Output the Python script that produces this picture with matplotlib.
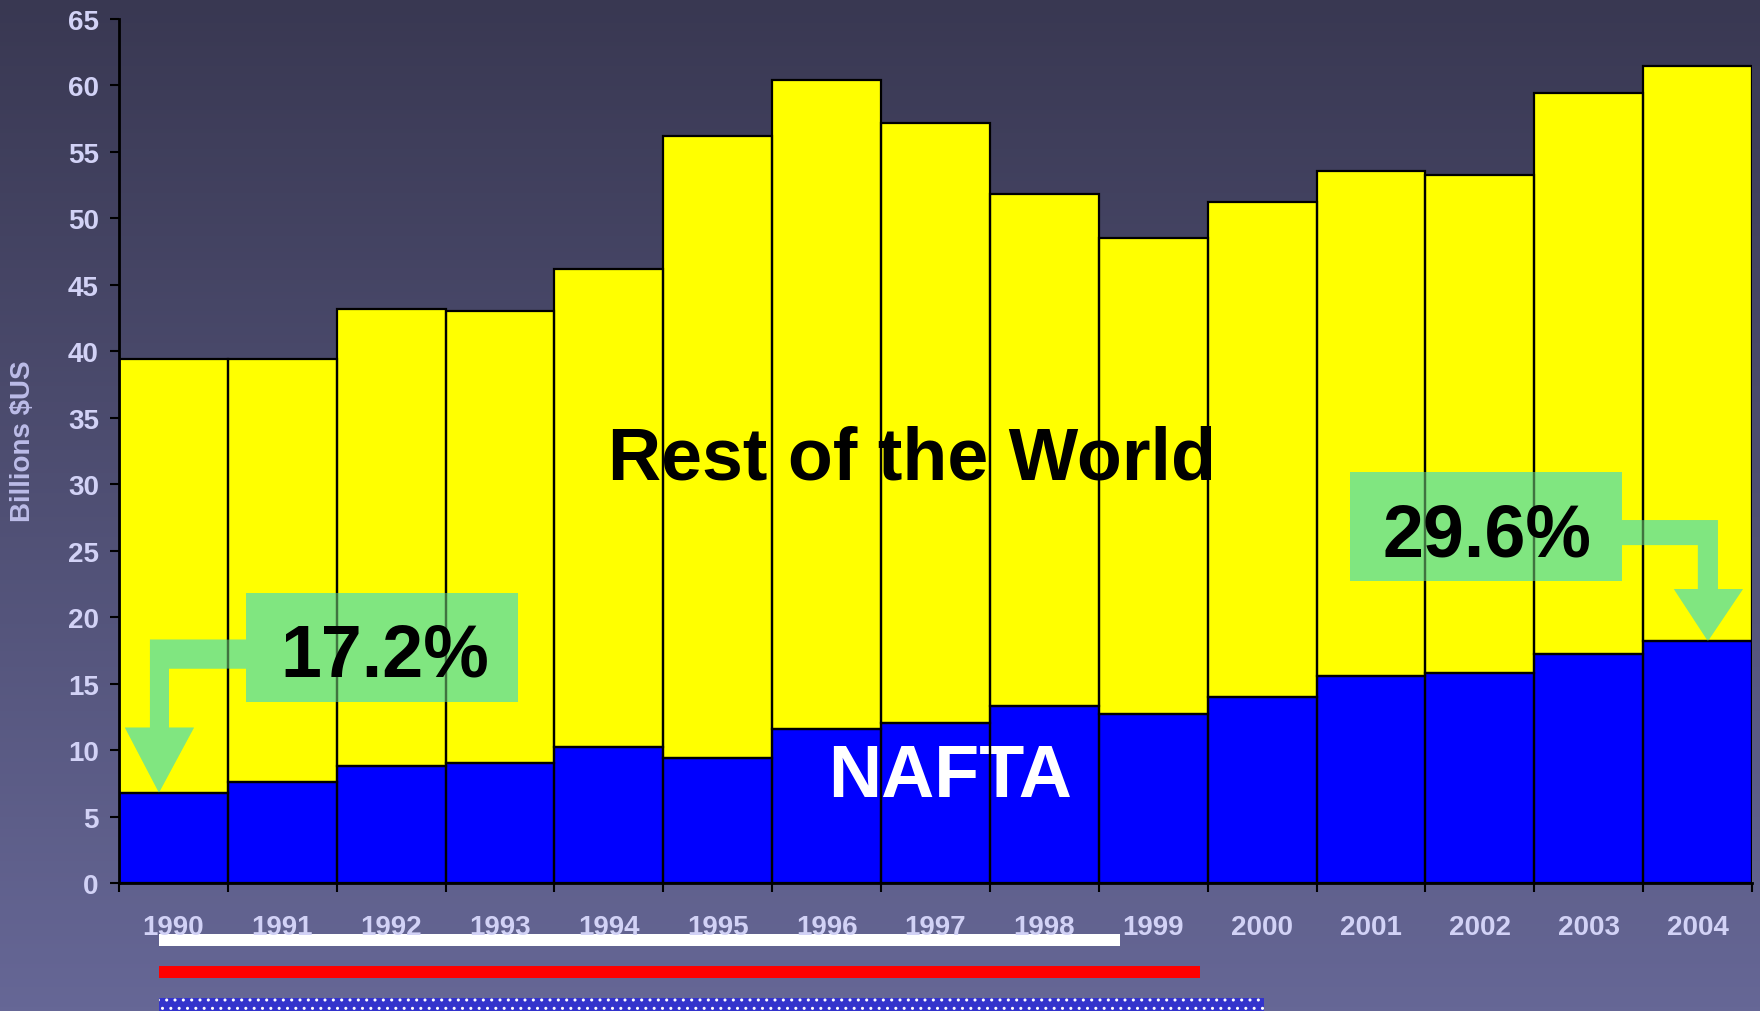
import matplotlib.pyplot as plt
import matplotlib.transforms as mtransforms
from matplotlib.patches import Rectangle, Polygon
import numpy as np

plt.rcParams['font.family'] = ['Liberation Sans', 'DejaVu Sans']
plt.rcParams['font.weight'] = 'bold'

years = [str(y) for y in range(1990, 2005)]
nafta = [6.8, 7.6, 8.8, 9.0, 10.2, 9.4, 11.6, 12.0, 13.3, 12.7, 14.0, 15.6, 15.8, 17.2, 18.2]
rest_of_world = [32.65, 31.85, 34.4, 34.0, 36.0, 46.8, 48.8, 45.2, 38.5, 35.8, 37.2, 38.0, 37.5, 42.2, 43.25]
y_ticks = list(range(0, 70, 5))

W, H = 1760, 1012
fig = plt.figure(figsize=(W / 100, H / 100), dpi=100)

# background gradient, dark at the top
bg = fig.add_axes([0, 0, 1, 1], zorder=0)
top = np.array([0x39, 0x38, 0x52]) / 255
bottom = np.array([0x66, 0x67, 0x96]) / 255
t = np.linspace(0, 1, 256)[:, None]
grad = top + (bottom - top) * t
bg.imshow(grad[:, None, :], aspect='auto', extent=[0, 1, 0, 1])
bg.axis('off')

ax = fig.add_axes([119 / W, (H - 884) / H, (1752 - 119) / W, (884 - 20) / H], zorder=1)
ax.patch.set_alpha(0)

x = np.arange(len(years))
# fills first, edges later so the big labels sit between them
ax.bar(x, nafta, width=1.0, color='#0000ff', linewidth=0, zorder=1)
ax.bar(x, rest_of_world, bottom=nafta, width=1.0, color='#ffff00', linewidth=0, zorder=1)

ax.text(6.78, 30.4, 'Rest of the World', fontsize=53, color='black', ha='center', va='baseline', zorder=2)
ax.text(7.13, 6.55, 'NAFTA', fontsize=53, color='white', ha='center', va='baseline', zorder=2)

green = '#80e680'
share = [n / (n + r) * 100 for n, r in zip(nafta, rest_of_world)]


def callout(ax, box, text_xy, tip, verts, label):
    for z, a in ((2.5, 1.0), (3.5, 0.5)):
        ax.add_patch(Rectangle((box[0], box[1]), box[2] - box[0], box[3] - box[1],
                               facecolor=green, edgecolor='none', alpha=a, zorder=z))
        tr = mtransforms.Affine2D().scale(1, -1) + \
            mtransforms.ScaledTranslation(tip[0], tip[1], ax.transData)
        ax.add_patch(Polygon(verts, closed=True, facecolor=green, edgecolor='none',
                             alpha=a, transform=tr, zorder=z))
    ax.text(text_xy[0], text_xy[1], label, fontsize=53, color='black',
            ha='center', va='baseline', zorder=4)


callout(ax, (0.667, 13.63, 3.165, 21.84), (1.943, 15.59), (-0.133, nafta[0]),
        [(0, 0), (35, -65), (10, -65), (10, -124), (100, -124), (100, -153),
         (-9, -153), (-9, -65), (-34, -65)],
        f'{share[0]:.1f}%')
callout(ax, (10.807, 22.74, 13.305, 30.95), (12.066, 24.62), (14.095, nafta[-1]),
        [(0, 0), (35, -52), (10, -52), (10, -121), (-100, -121), (-100, -96),
         (-10, -96), (-10, -52), (-34, -52)],
        f'{share[-1]:.1f}%')

ax.bar(x, nafta, width=1.0, fill=False, edgecolor='black', linewidth=1.6, zorder=3)
ax.bar(x, rest_of_world, bottom=nafta, width=1.0, fill=False, edgecolor='black',
       linewidth=1.6, zorder=3)

ax.set_xlim(-0.5, len(years) - 0.5)
ax.set_ylim(0, 65)
ax.set_yticks(y_ticks)
ax.set_xticks(np.arange(len(years) + 1) - 0.5)
ax.set_xticklabels([])
ax.set_xticks(x, minor=True)
ax.set_xticklabels(years, minor=True)
label_color = '#d2d2f6'
ax.tick_params(axis='both', which='major', length=6.5, width=1.5, color='black')
ax.tick_params(axis='y', labelsize=20, labelcolor=label_color, pad=8)
ax.tick_params(axis='x', which='minor', length=0, labelsize=20, labelcolor=label_color, pad=22)
for s in ('top', 'right'):
    ax.spines[s].set_visible(False)
for s in ('left', 'bottom'):
    ax.spines[s].set_linewidth(2)
    ax.spines[s].set_color('black')

fig.text(23 / W, (H - 441) / H, 'Billions $US', rotation=90, fontsize=20,
         color='#bcbce8', ha='center', va='center')

# stripes under the axis
stripes = [(159, 1120, 935, 947, 'white', ''), (159, 1200, 967, 979, '#ff0000', ''),
           (159, 1264, 999, 1012, '#3333cc', '..')]
for x0, x1, y0, y1, c, h in stripes:
    fig.add_artist(Rectangle((x0 / W, (H - y1) / H), (x1 - x0) / W, (y1 - y0) / H,
                             transform=fig.transFigure, facecolor=c,
                             edgecolor='white' if h else 'none', linewidth=0, hatch=h or None))

fig.savefig('out.png', dpi=100)
